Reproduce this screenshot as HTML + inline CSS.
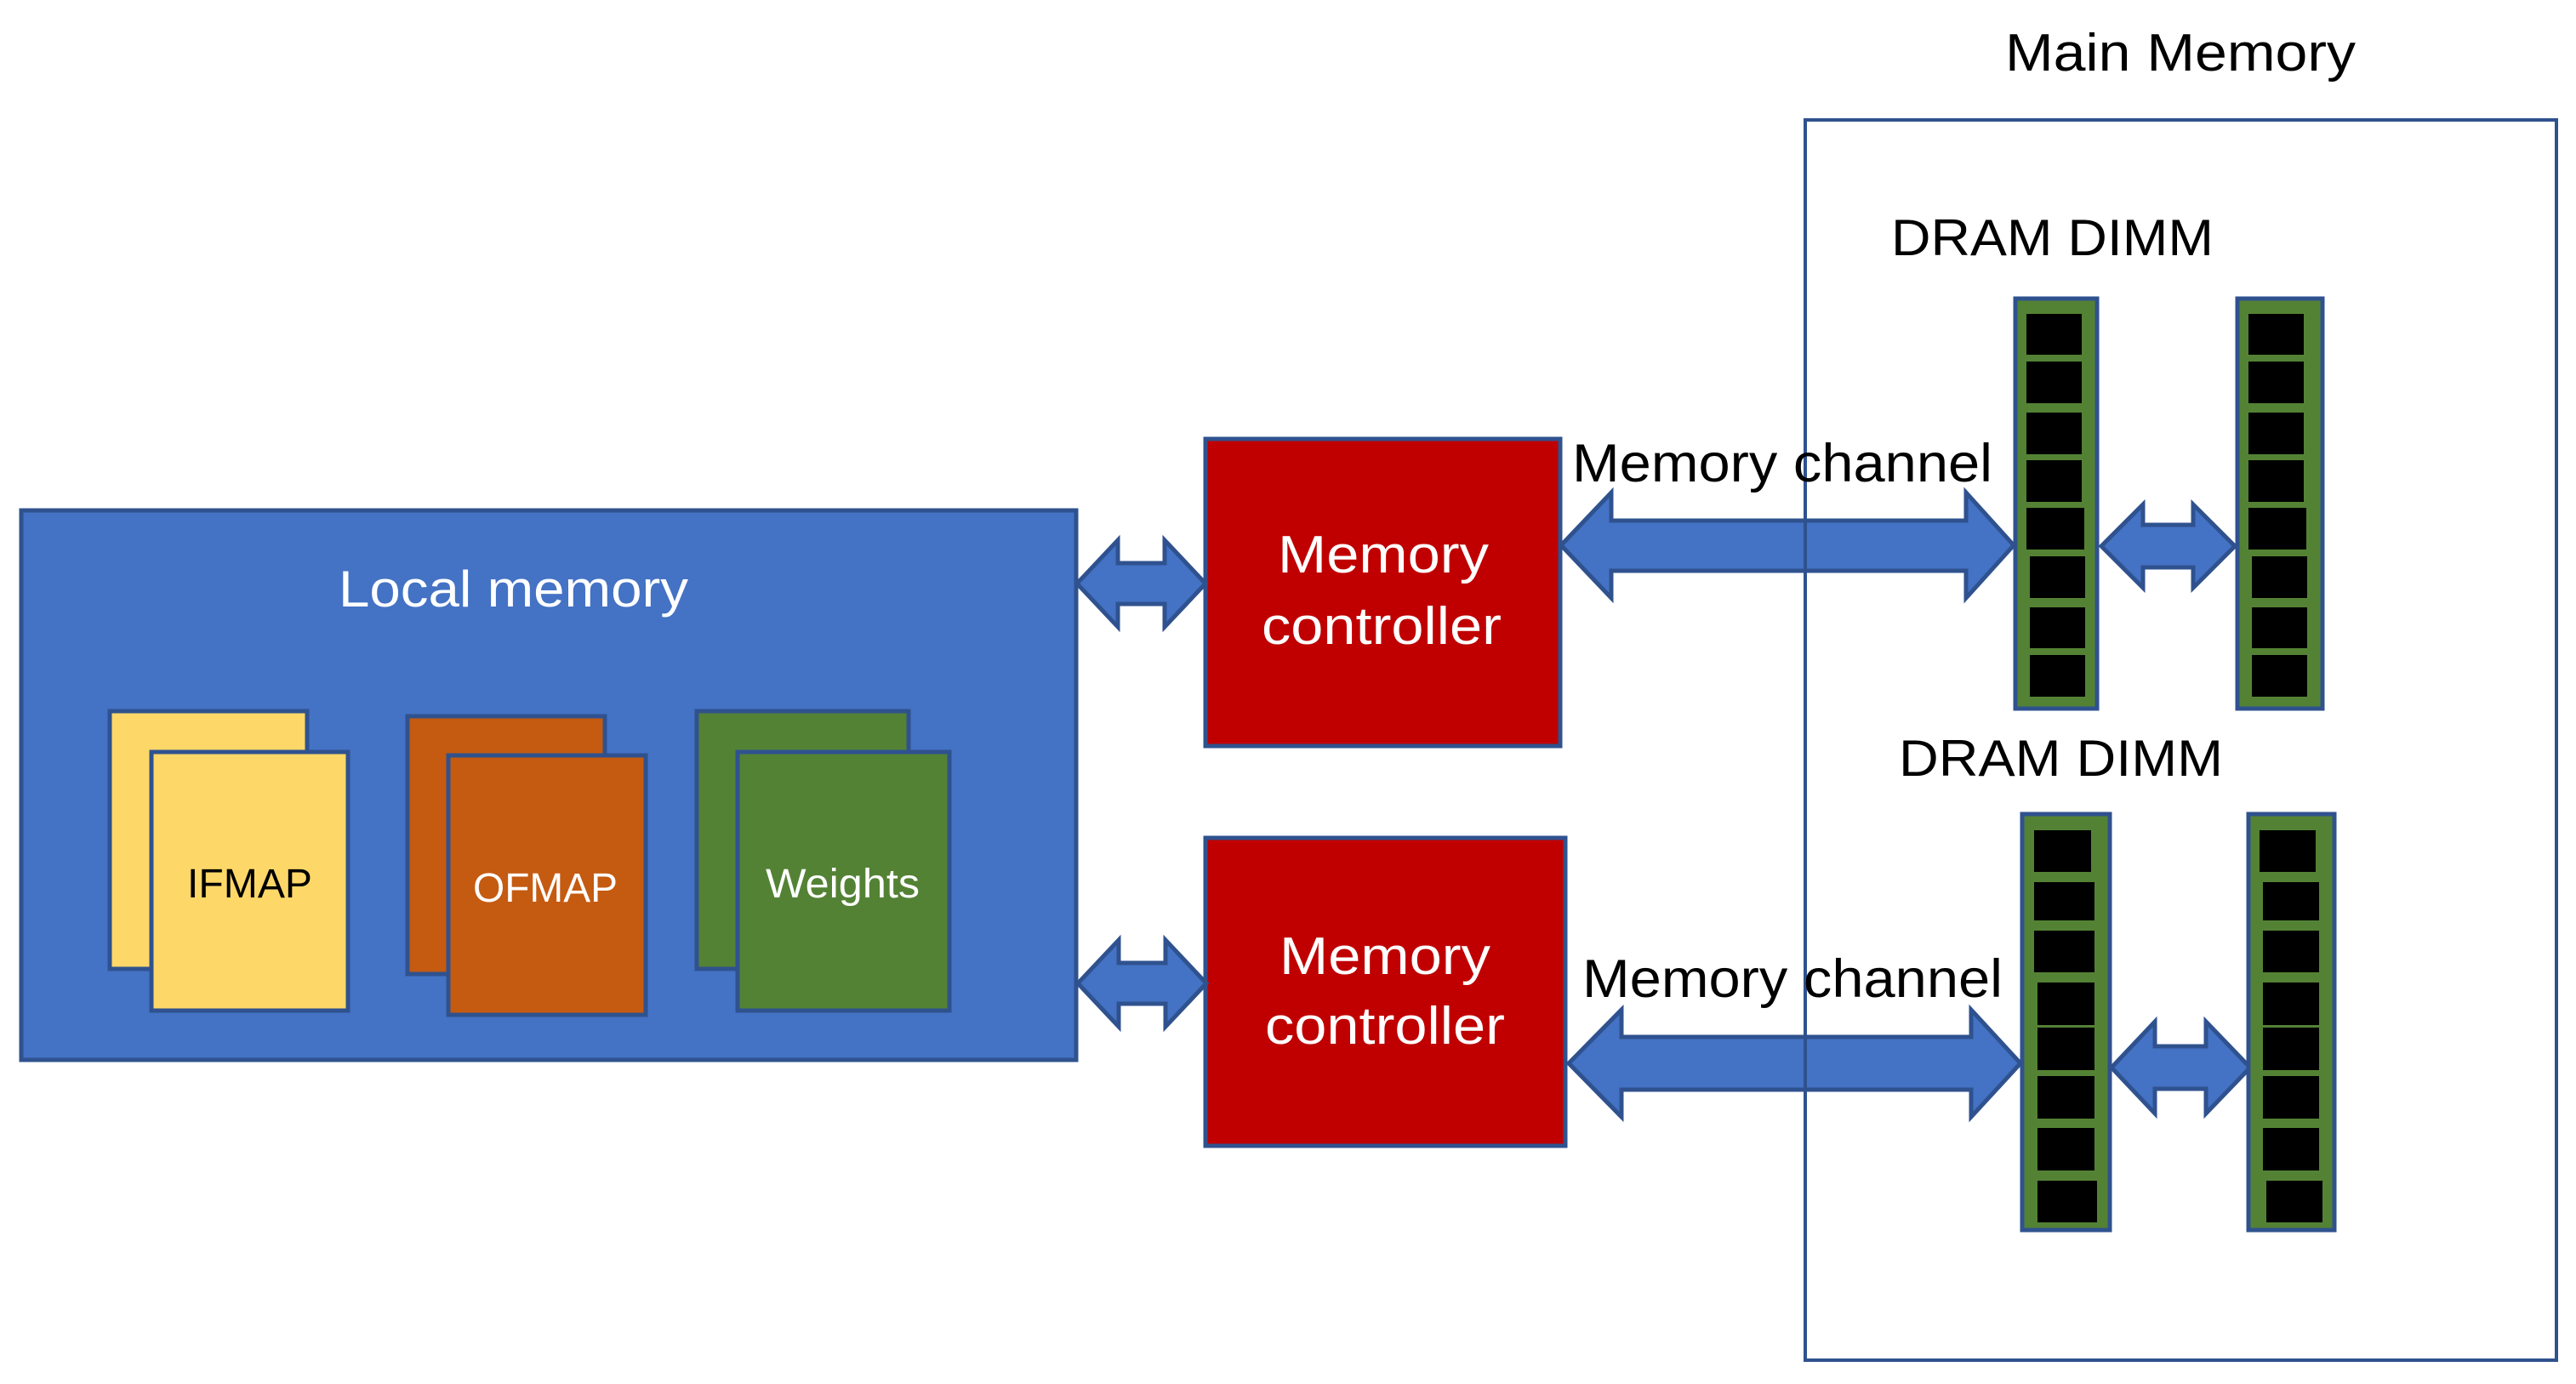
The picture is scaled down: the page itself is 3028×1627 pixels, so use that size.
<!DOCTYPE html>
<html><head><meta charset="utf-8"><style>
html,body{margin:0;padding:0;background:#fff;}
svg{display:block;}
text{font-family:"Liberation Sans",sans-serif;}
</style></head><body>
<svg width="3028" height="1627" viewBox="0 0 3028 1627" xmlns="http://www.w3.org/2000/svg">
<rect width="3028" height="1627" fill="#fff"/>
<!-- Main memory -->
<rect x="2122" y="141" width="2883" height="1458" fill="none" stroke="#2F528F" stroke-width="4" transform="translate(0,0)" style="width:883px"/>
<text x="2357" y="83" font-size="62" textLength="412" lengthAdjust="spacingAndGlyphs" fill="#000">Main Memory</text>
<text x="2223" y="300" font-size="60" textLength="379" lengthAdjust="spacingAndGlyphs" fill="#000">DRAM DIMM</text>
<text x="2232" y="912" font-size="60" textLength="381" lengthAdjust="spacingAndGlyphs" fill="#000">DRAM DIMM</text>

<!-- Local memory -->
<rect x="25" y="600" width="1240" height="646" fill="#4472C4" stroke="#2F528F" stroke-width="5"/>
<text x="398" y="713" font-size="60" textLength="411" lengthAdjust="spacingAndGlyphs" fill="#fff">Local memory</text>

<rect x="129" y="836" width="232" height="303" fill="#FDD868" stroke="#2F528F" stroke-width="5"/>
<rect x="178" y="884" width="231" height="304" fill="#FDD868" stroke="#2F528F" stroke-width="5"/>
<text x="220" y="1055" font-size="48" textLength="147" lengthAdjust="spacingAndGlyphs" fill="#000">IFMAP</text>

<rect x="479" y="842" width="232" height="303" fill="#C55A11" stroke="#2F528F" stroke-width="5"/>
<text x="0" y="0"></text>
<rect x="527" y="888" width="232" height="305" fill="#C55A11" stroke="#2F528F" stroke-width="5"/>
<text x="556" y="1060" font-size="48" textLength="170" lengthAdjust="spacingAndGlyphs" fill="#fff">OFMAP</text>

<rect x="819" y="836" width="249" height="303" fill="#548235" stroke="#2F528F" stroke-width="5"/>
<rect x="867" y="884" width="249" height="304" fill="#548235" stroke="#2F528F" stroke-width="5"/>
<text x="900" y="1055" font-size="48" textLength="181" lengthAdjust="spacingAndGlyphs" fill="#fff">Weights</text>

<!-- Memory controllers -->
<rect x="1417" y="516" width="417" height="361" fill="#C00000" stroke="#2F528F" stroke-width="5"/>
<text x="1502" y="673" font-size="62" textLength="248" lengthAdjust="spacingAndGlyphs" fill="#fff">Memory</text>
<text x="1483" y="757" font-size="62" textLength="282" lengthAdjust="spacingAndGlyphs" fill="#fff">controller</text>
<rect x="1417" y="985" width="423" height="362" fill="#C00000" stroke="#2F528F" stroke-width="5"/>
<text x="1504" y="1145" font-size="62" textLength="248" lengthAdjust="spacingAndGlyphs" fill="#fff">Memory</text>
<text x="1487" y="1227" font-size="62" textLength="282" lengthAdjust="spacingAndGlyphs" fill="#fff">controller</text>

<!-- Small arrows local<->MC -->
<g fill="#4472C4" stroke="#2F528F" stroke-width="5" stroke-linejoin="miter">
<path d="M1266 686 L1314 635 L1314 662 L1369 662 L1369 635 L1417 686 L1369 737 L1369 710 L1314 710 L1314 737 Z"/>
<path d="M1267 1156 L1315 1105 L1315 1132 L1370 1132 L1370 1105 L1418 1156 L1370 1207 L1370 1180 L1315 1180 L1315 1207 Z"/>
<!-- Big channel arrows -->
<path d="M1835 641 L1894 579 L1894 612 L2311 612 L2311 579 L2367 641 L2311 703 L2311 671 L1894 671 L1894 703 Z"/>
<path d="M1844 1250 L1906 1187 L1906 1219 L2317 1219 L2317 1187 L2375 1250 L2317 1313 L2317 1281 L1906 1281 L1906 1313 Z"/>
<!-- DIMM arrows -->
<path d="M2470 642 L2519 593 L2519 617 L2578 617 L2578 593 L2627 642 L2578 691 L2578 667 L2519 667 L2519 691 Z"/>
<path d="M2482 1255 L2533 1201 L2533 1230 L2593 1230 L2593 1201 L2645 1255 L2593 1309 L2593 1280 L2533 1280 L2533 1309 Z"/>
</g>
<!-- main box line over arrows -->
<line x1="2122" y1="139" x2="2122" y2="1601" stroke="#2F528F" stroke-width="4"/>
<line x1="2120" y1="141" x2="3007" y2="141" stroke="#2F528F" stroke-width="4"/>
<line x1="3005" y1="139" x2="3005" y2="1601" stroke="#2F528F" stroke-width="4"/>
<line x1="2120" y1="1599" x2="3007" y2="1599" stroke="#2F528F" stroke-width="4"/>

<text x="1848" y="566" font-size="63" textLength="494" lengthAdjust="spacingAndGlyphs" fill="#000">Memory channel</text>
<text x="1860" y="1172" font-size="63" textLength="494" lengthAdjust="spacingAndGlyphs" fill="#000">Memory channel</text>

<!-- DIMMs -->
<g fill="#548235" stroke="#2F528F" stroke-width="5">
<rect x="2369" y="351" width="96" height="482"/>
<rect x="2630" y="351" width="100" height="482"/>
<rect x="2377" y="957" width="103" height="489"/>
<rect x="2643" y="957" width="101" height="489"/>
</g>
<g fill="#000">
<rect x="2382" y="369" width="65" height="48"/>
<rect x="2382" y="425" width="65" height="49"/>
<rect x="2382" y="485" width="65" height="49"/>
<rect x="2382" y="541" width="65" height="49"/>
<rect x="2382" y="597" width="68" height="49"/>
<rect x="2386" y="654" width="65" height="49"/>
<rect x="2386" y="714" width="65" height="48"/>
<rect x="2386" y="770" width="65" height="49"/>

<rect x="2643" y="369" width="65" height="48"/>
<rect x="2643" y="425" width="65" height="49"/>
<rect x="2643" y="485" width="65" height="49"/>
<rect x="2643" y="541" width="65" height="49"/>
<rect x="2643" y="597" width="68" height="49"/>
<rect x="2647" y="654" width="65" height="49"/>
<rect x="2647" y="714" width="65" height="48"/>
<rect x="2647" y="770" width="65" height="49"/>

<rect x="2391" y="976" width="67" height="49"/>
<rect x="2391" y="1037" width="71" height="45"/>
<rect x="2391" y="1094" width="71" height="49"/>
<rect x="2395" y="1155" width="67" height="50"/>
<rect x="2395" y="1208" width="67" height="50"/>
<rect x="2395" y="1265" width="67" height="50"/>
<rect x="2395" y="1326" width="67" height="50"/>
<rect x="2395" y="1388" width="70" height="49"/>

<rect x="2656" y="976" width="66" height="49"/>
<rect x="2660" y="1037" width="66" height="45"/>
<rect x="2660" y="1094" width="66" height="49"/>
<rect x="2660" y="1155" width="66" height="50"/>
<rect x="2660" y="1208" width="66" height="50"/>
<rect x="2660" y="1265" width="66" height="50"/>
<rect x="2660" y="1326" width="66" height="50"/>
<rect x="2664" y="1388" width="66" height="49"/>
</g>
</svg>
</body></html>
